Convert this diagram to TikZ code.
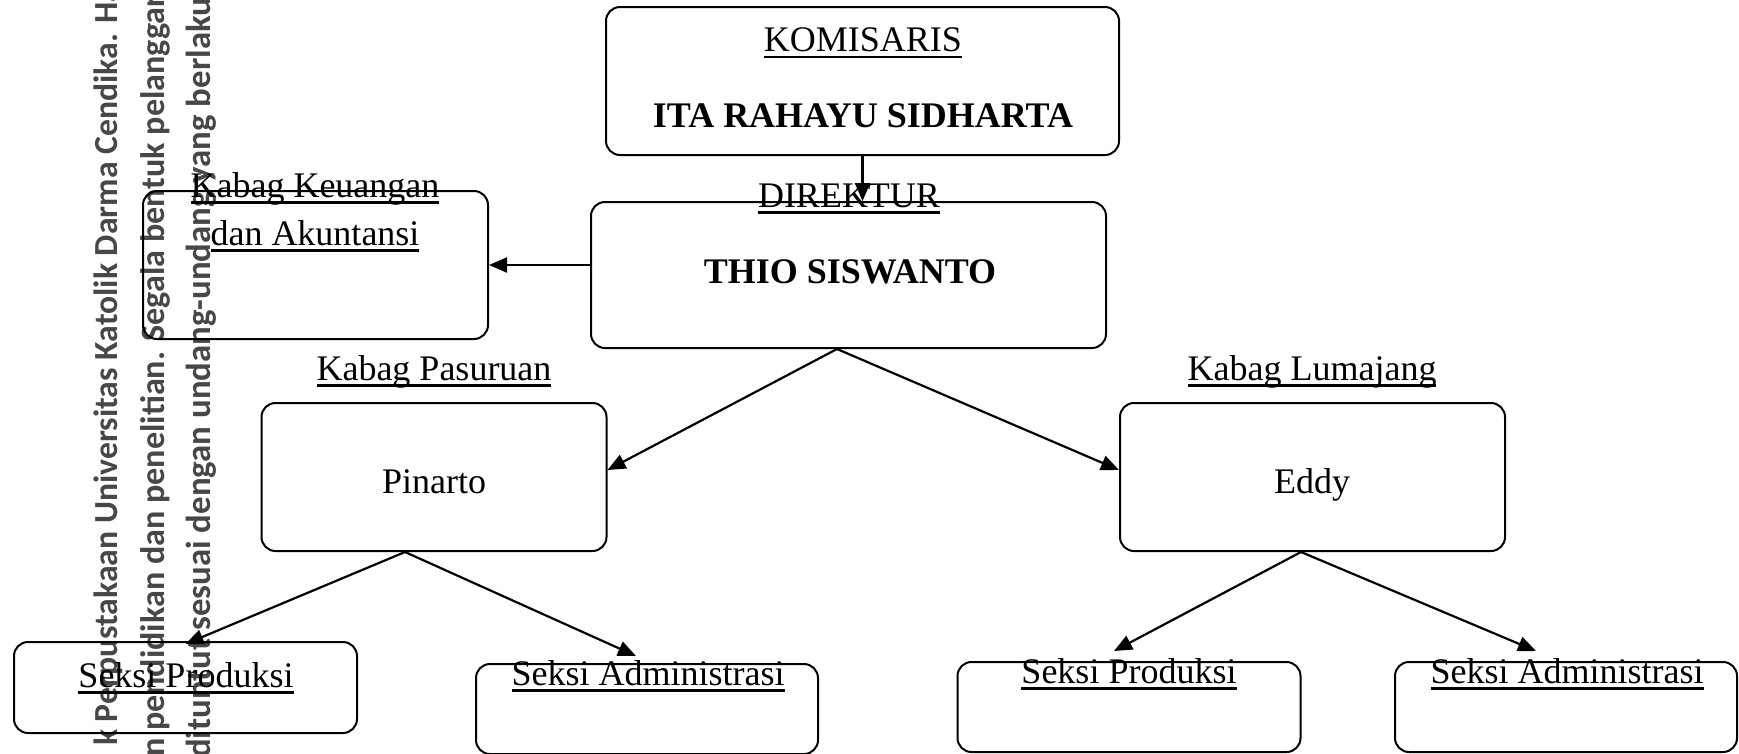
\documentclass[tikz,border=0pt]{standalone}
\usepackage{fontspec}
\setmainfont{Liberation Serif}
\newfontfamily\wmfont{Carlito}
\usetikzlibrary{arrows.meta}
\newcommand\ulx[1]{\setbox0\hbox{#1}\rlap{\rule[-6.5pt]{\wd0}{2.2pt}}\box0}
\tikzset{
  box/.style={draw, line width=2pt, rounded corners=14pt, inner sep=0pt},
  lbl/.style={inner sep=0pt, anchor=base, font=\fontsize{36}{40}\selectfont},
  blbl/.style={lbl, font=\fontsize{36}{40}\selectfont\bfseries},
  arr/.style={line width=2.2pt, -{Triangle[length=18pt,width=15pt]}},
  wm/.style={inner sep=0pt, rotate=90, anchor=base west, text=black!72},
}
\begin{document}
\begin{tikzpicture}[x=1pt,y=-1pt]
\useasboundingbox (0,0) rectangle (1739,753);
\clip (0,0) rectangle (1739,753);
% watermark
\node[wm, font=\fontsize{33.7}{36}\selectfont\wmfont\bfseries] (wma) at (117,746) {k Perpustakaan Universitas Katolik Darma Cendika. Hak Cipta};
\node[wm, font=\fontsize{34.1}{36}\selectfont\wmfont\bfseries] (wmb) at (164,757) {n pendidikan dan penelitian. Segala bentuk pelanggaran};
\node[wm, font=\fontsize{34.8}{36}\selectfont\wmfont\bfseries] (wmc) at (210,758) {dituntut sesuai dengan undang-undang yang berlaku};
% boxes
\node[box, minimum width=513pt, minimum height=148pt] (kom) at (862.5,81) {};
\node[box, minimum width=515pt, minimum height=146pt] (dir) at (848.5,275) {};
\node[box, minimum width=345pt, minimum height=148pt] (keu) at (315.5,265) {};
\node[box, minimum width=345pt, minimum height=148pt] (pin) at (434,477) {};
\node[box, minimum width=385pt, minimum height=148pt] (eddy) at (1312.5,477) {};
\node[box, minimum width=343pt, minimum height=91pt] (spl) at (185.5,687.5) {};
\node[box, minimum width=342pt, minimum height=90pt] (sal) at (647,709) {};
\node[box, minimum width=343pt, minimum height=90pt] (spr) at (1129,707) {};
\node[box, minimum width=342pt, minimum height=90pt] (sar) at (1566,707) {};
% texts
\node[lbl] (tkom) at (863,51.7) {\ulx{KOMISARIS}};
\node[blbl] (tita) at (863,127) {ITA RAHAYU SIDHARTA};
\node[lbl] (tdir) at (849,207) {\ulx{DIREKTUR}};
\node[blbl] (tthio) at (850,283) {THIO SISWANTO};
\node[lbl] (tkeu1) at (315,197) {\ulx{Kabag Keuangan}};
\node[lbl] (tkeu2) at (315,245) {\ulx{dan Akuntansi}};
\node[lbl] (tpas) at (434,380) {\ulx{Kabag Pasuruan}};
\node[lbl] (tpin) at (434,493) {Pinarto};
\node[lbl] (tlum) at (1312,380) {\ulx{Kabag Lumajang}};
\node[lbl] (tedd) at (1312,493) {Eddy};
\node[lbl] (tspl) at (186,687) {\ulx{Seksi Produksi}};
\node[lbl] (tsal) at (648,685) {\ulx{Seksi Administrasi}};
\node[lbl] (tspr) at (1129,683) {\ulx{Seksi Produksi}};
\node[lbl] (tsar) at (1567,683) {\ulx{Seksi Administrasi}};
% connectors
\draw[arr] (kom.south) -- (kom.south |- dir.north);
\draw[arr] (dir.west |- keu.east) -- (keu.east);
\draw[arr] ([xshift=-11.5pt]dir.south) -- ([yshift=7pt]pin.east);
\draw[arr] ([xshift=-11.5pt]dir.south) -- ([yshift=7pt]eddy.west);
\draw[arr] ([xshift=-29pt]pin.south) -- ([yshift=-3pt]spl.north);
\draw[arr] ([xshift=-29pt]pin.south) -- ([xshift=-11pt,yshift=7pt]sal.north);
\draw[arr] ([xshift=-11.5pt]eddy.south) -- ([xshift=-15pt,yshift=10pt]spr.north);
\draw[arr] ([xshift=-11.5pt]eddy.south) -- ([xshift=-30pt,yshift=10pt]sar.north);
\end{tikzpicture}
\end{document}
